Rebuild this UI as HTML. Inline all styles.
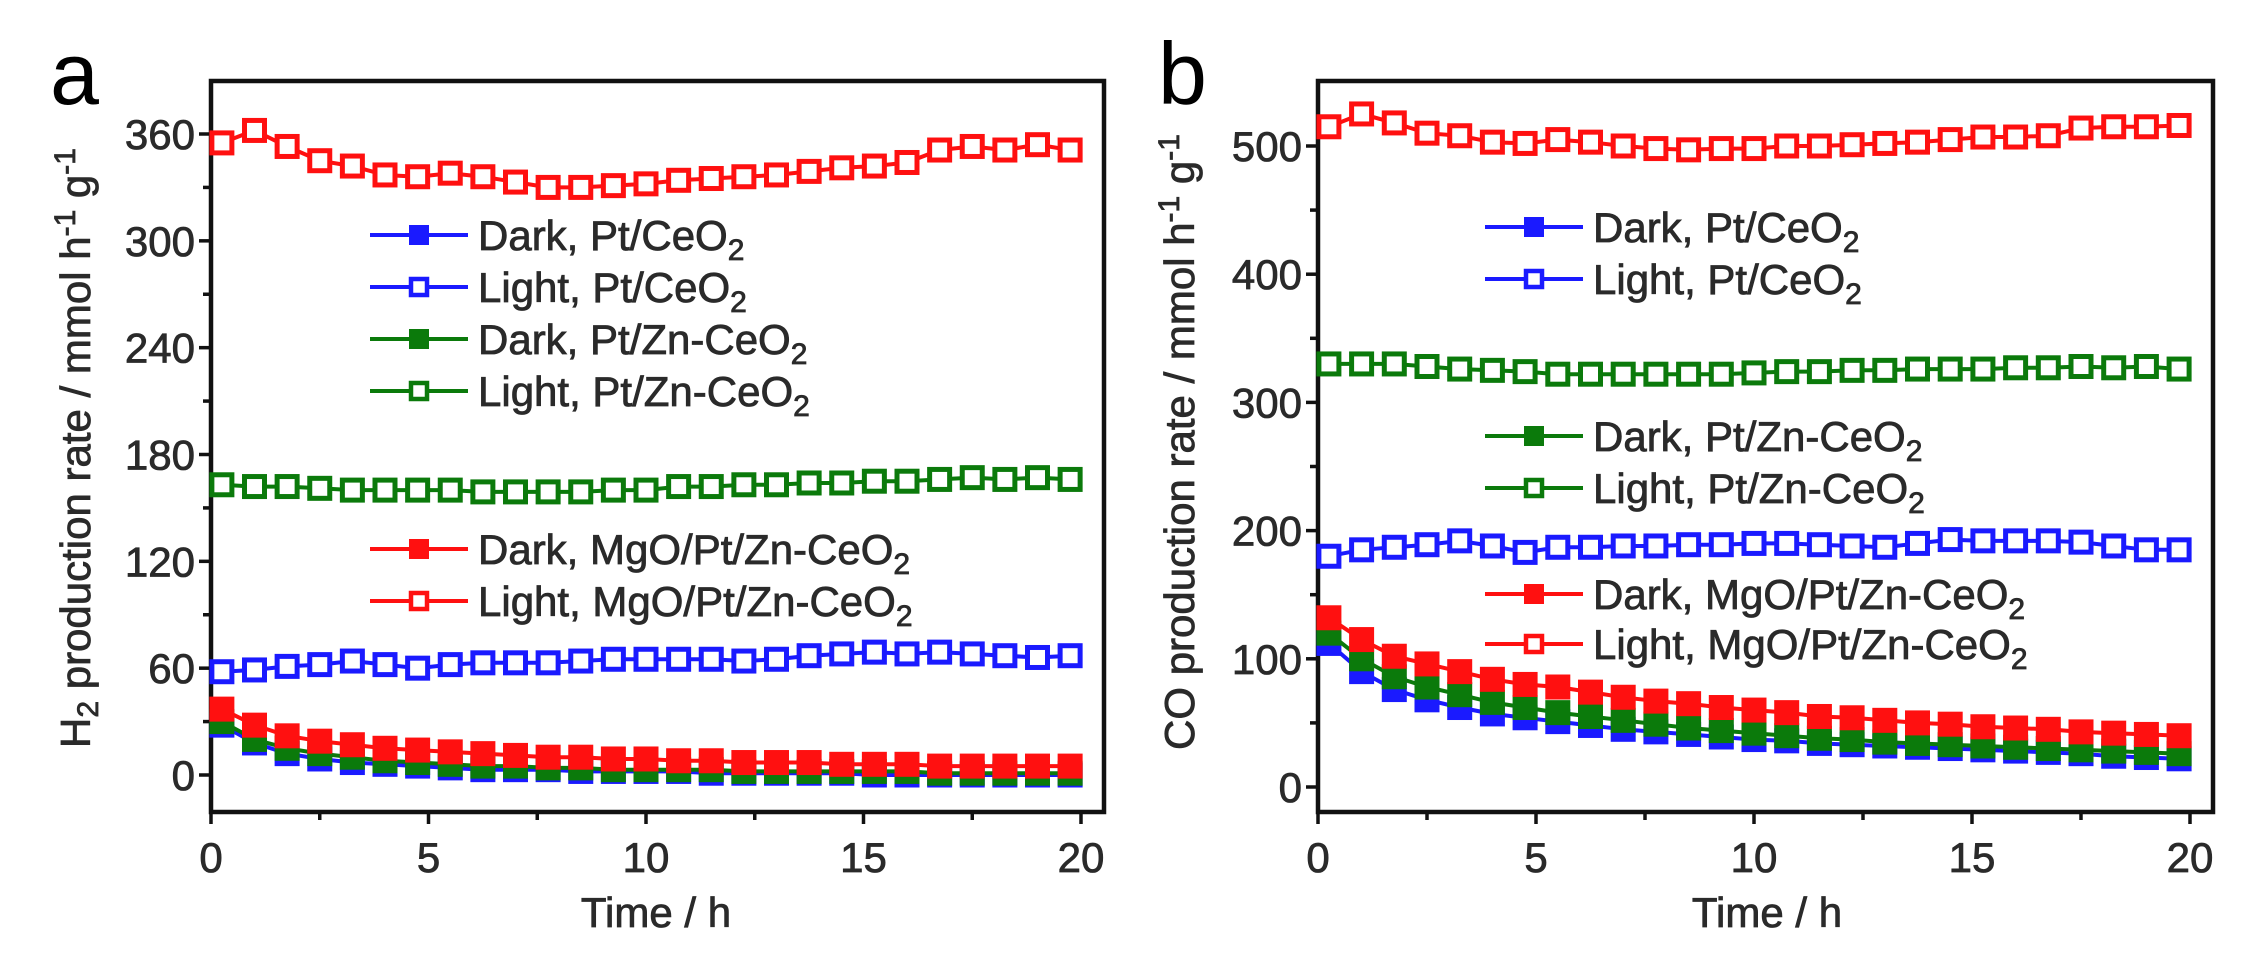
<!DOCTYPE html>
<html><head><meta charset="utf-8"><style>
html,body{margin:0;padding:0;background:#fff;}
svg{display:block;font-family:"Liberation Sans",Arial,sans-serif;}
</style></head><body>
<svg id="s" width="2246" height="963" viewBox="0 0 2246 963" xmlns="http://www.w3.org/2000/svg"></svg>
<script>
const S=document.getElementById('s');let h='';
const BL='#1a1aff',GR='#0b7a0b',RD='#ff1010',TX='#2a2a2a';
const TS='stroke="#2a2a2a" stroke-width="0.8"';
function panel(p){
 const X=t=>p.x0+t*p.xs, Y=v=>p.y0-v*p.ys;
 h+=`<rect x="${p.L}" y="81" width="${p.R-p.L}" height="${812-81}" fill="none" stroke="#111" stroke-width="4.5"/>`;
 for(let t=0;t<=20;t+=2.5){const maj=t%5==0;h+=`<line x1="${X(t)}" y1="812" x2="${X(t)}" y2="${812+(maj?12:8)}" stroke="#111" stroke-width="3.5"/>`;
  if(maj)h+=`<text x="${X(t)}" y="872" font-size="42" text-anchor="middle" fill="${TX}" ${TS}>${t}</text>`;}
 for(let v=0;v<=p.ymax;v+=p.ystep/2){const maj=Math.abs(v/p.ystep-Math.round(v/p.ystep))<1e-6;const y=Y(v);if(y<85)continue;
  h+=`<line x1="${p.L-(maj?12:8)}" y1="${y}" x2="${p.L}" y2="${y}" stroke="#111" stroke-width="3.5"/>`;
  if(maj)h+=`<text x="${p.L-16}" y="${y+15}" font-size="42" text-anchor="end" fill="${TX}" ${TS}>${v}</text>`;}
 const ts=[];for(let i=0;i<27;i++)ts.push(0.25+0.75*i);
 p.series.forEach(s=>{
  let d=s.d.map((v,i)=>(i?'L':'M')+X(ts[i]).toFixed(1)+','+Y(v).toFixed(1)).join('');
  h+=`<path d="${d}" fill="none" stroke="${s.c}" stroke-width="4"/>`;
  s.d.forEach((v,i)=>{h+= s.f?`<rect x="${X(ts[i])-12.5}" y="${Y(v)-12.5}" width="25" height="25" fill="${s.c}"/>`:
   `<rect x="${X(ts[i])-10}" y="${Y(v)-10}" width="20" height="20" fill="#fff" stroke="${s.c}" stroke-width="5"/>`;});
 });
 p.leg.forEach(l=>{const y=l.y;h+=`<line x1="${p.lx}" y1="${y}" x2="${p.lx+98}" y2="${y}" stroke="${l.c}" stroke-width="4"/>`;
  const m=p.lx+49;h+=l.f?`<rect x="${m-10}" y="${y-10}" width="20" height="20" fill="${l.c}"/>`:`<rect x="${m-8}" y="${y-8}" width="16" height="16" fill="#fff" stroke="${l.c}" stroke-width="4.5"/>`;
  h+=`<text x="${p.lx+108}" y="${y+15}" font-size="42" fill="${TX}" ${TS}>${l.t}<tspan font-size="30" dy="10">2</tspan></text>`;});
 h+=`<text x="${p.xtx}" y="927" font-size="42" text-anchor="middle" fill="${TX}" ${TS}>Time / h</text>`;
 h+=`<text transform="translate(${p.ytx},${p.yty}) rotate(-90)" font-size="42" text-anchor="middle" fill="${TX}" ${TS}>${p.yt}</text>`;
 h+=`<text x="${p.lab[0]}" y="${p.lab[1]}" font-size="88" fill="#000">${p.lab[2]}</text>`;
}
const legA=[['Dark, Pt/CeO',BL,1],['Light, Pt/CeO',BL,0],['Dark, Pt/Zn-CeO',GR,1],['Light, Pt/Zn-CeO',GR,0],['Dark, MgO/Pt/Zn-CeO',RD,1],['Light, MgO/Pt/Zn-CeO',RD,0]];
const ytA='<tspan>H</tspan><tspan font-size="30" dy="8">2</tspan><tspan dy="-8"> production rate / mmol h</tspan><tspan font-size="30" dy="-15">-1</tspan><tspan dy="15"> g</tspan><tspan font-size="30" dy="-15">-1</tspan>';
const ytB='<tspan>CO production rate / mmol h</tspan><tspan font-size="30" dy="-15">-1</tspan><tspan dy="15"> g</tspan><tspan font-size="30" dy="-15">-1</tspan>';
panel({L:211,R:1104,x0:211,xs:43.5,y0:775,ys:641/360,ymax:390,ystep:60,lx:370,xtx:656,ytx:90,yty:448,yt:ytA,lab:[50,104,'a'],
 leg:[235,287,339,391,549,601].map((y,i)=>({y,t:legA[i][0],c:legA[i][1],f:legA[i][2]})),
 series:[
 {c:BL,f:1,d:[28,18,12,9,7,6,5,4,3,3,3,2,2,2,2,1,1,1,1,1,0,0,0,0,0,0,0]},
 {c:GR,f:1,d:[30,20,15,12,10,8,7,6,5,5,4,4,3,3,3,3,2,2,2,2,2,2,1,1,1,1,1]},
 {c:RD,f:1,d:[37,28,22,19,17,15,14,13,12,11,10,10,9,9,8,8,7,7,7,6,6,6,5,5,5,5,5]},
 {c:BL,f:0,d:[58,59,61,62,64,62,60,62,63,63,63,64,65,65,65,65,64,65,67,68,69,68,69,68,67,66,67]},
 {c:GR,f:0,d:[163,162,162,161,160,160,160,160,159,159,159,159,160,160,162,162,163,163,164,164,165,165,166,167,166,167,166]},
 {c:RD,f:0,d:[355,362,353,345,342,337,336,338,336,333,330,330,331,332,334,335,336,337,339,341,342,344,351,353,351,354,351]}]});
panel({L:1318,R:2213,x0:1318,xs:43.6,y0:787,ys:641/500,ymax:540,ystep:100,lx:1485,xtx:1767,ytx:1194,yty:442,yt:ytB,lab:[1158,104,'b'],
 leg:[227,279,436,488,594,644].map((y,i)=>({y,t:legA[i][0],c:legA[i][1],f:legA[i][2]})),
 series:[
 {c:BL,f:1,d:[112,90,76,68,62,57,54,51,48,45,43,41,39,37,36,34,33,32,31,30,29,28,27,26,24,23,22]},
 {c:GR,f:1,d:[120,100,86,78,72,66,62,58,55,52,49,46,44,42,40,38,37,35,34,33,32,31,30,29,28,27,26]},
 {c:RD,f:1,d:[132,115,102,96,90,84,80,78,74,70,67,65,62,60,58,55,54,52,50,49,47,46,45,43,42,41,40]},
 {c:BL,f:0,d:[180,185,187,189,192,188,183,187,187,188,188,189,189,190,190,189,188,187,190,193,192,192,192,191,188,185,185]},
 {c:GR,f:0,d:[330,330,330,328,326,325,324,322,322,322,322,322,322,323,324,324,325,325,326,326,326,327,327,328,327,328,326]},
 {c:RD,f:0,d:[515,525,518,510,508,503,502,505,503,500,498,497,498,498,500,500,501,502,503,505,507,507,508,514,515,515,516]}]});
S.innerHTML=h;
</script>
</body></html>
